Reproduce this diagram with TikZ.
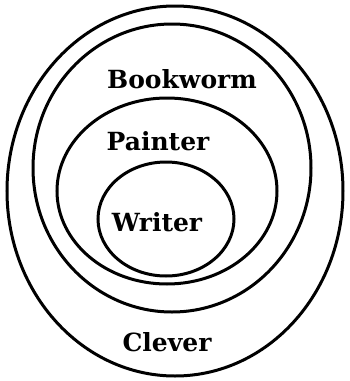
\documentclass[tikz,border=0pt]{standalone}
\usepackage{fontspec}
\setmainfont{DejaVu Serif}
\begin{document}
\begin{tikzpicture}[x=1pt,y=-1pt,
  setring/.style={draw=black,line width=3pt},
  setlabel/.style={font=\fontsize{25}{25}\selectfont\bfseries,inner sep=0pt,anchor=center}]
\useasboundingbox (0,0) rectangle (349,381);
\draw[setring] (175,191) ellipse [x radius=168, y radius=185];
\draw[setring] (172,168) ellipse [x radius=139, y radius=144];
\draw[setring] (167,191) ellipse [x radius=110, y radius=93];
\draw[setring] (166,219) ellipse [x radius=68, y radius=57];
\node[setlabel] (bookworm) at (182,79) {Bookworm};
\node[setlabel] (painter) at (158,141) {Painter};
\node[setlabel] (writer) at (157,222) {Writer};
\node[setlabel] (clever) at (167,342) {Clever};
\end{tikzpicture}
\end{document}
